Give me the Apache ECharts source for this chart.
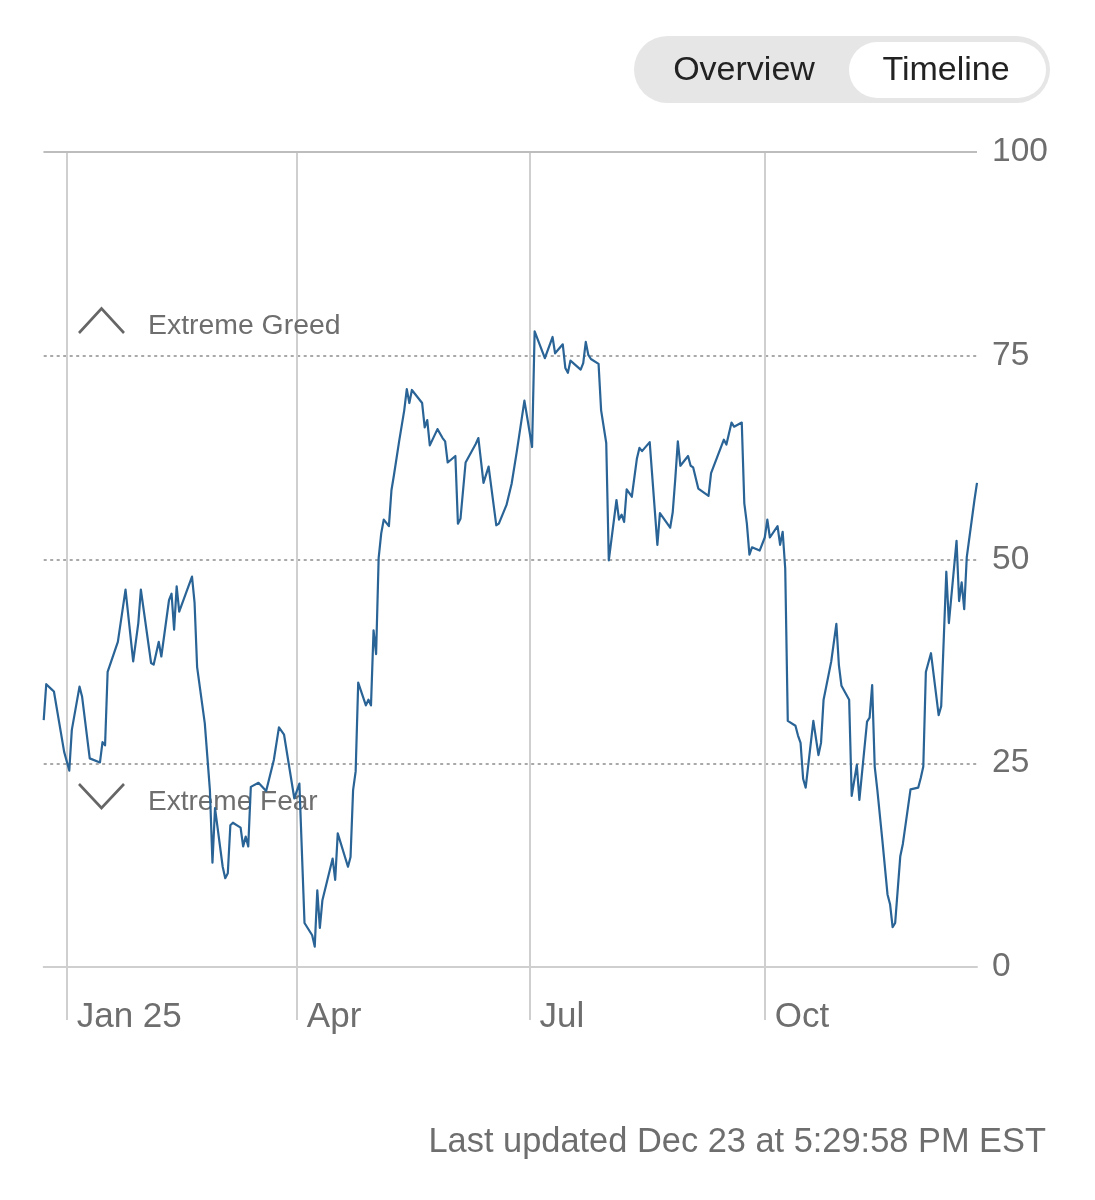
<!DOCTYPE html>
<html><head><meta charset="utf-8">
<style>html,body{margin:0;padding:0;background:#fff}#c{width:1095px;height:1200px}</style>
<script src="https://cdn.jsdelivr.net/npm/echarts@6/dist/echarts.min.js"></script>
</head><body><div id="c"></div>
<script>
// x values are calendar days since 2024-12-23
const lastDay = 365;
const tickDays = [9,99,190,282];
const tickLabels = ['Jan 25','Apr','Jul','Oct'];
const yTicks = [0,25,50,75,100];
const dayOffsets = [0,1,3,4,8,10,11,14,15,18,22,23,24,25,29,32,35,37,38,42,43,45,46,49,50,51,52,53,58,59,60,63,65,66,67,70,71,72,73,74,77,78,79,80,81,84,87,90,92,94,98,100,102,105,106,107,108,109,113,114,115,119,120,121,122,123,126,127,128,129,130,131,132,133,135,136,137,139,141,142,143,144,146,148,149,150,151,154,156,157,158,161,162,163,165,169,170,172,174,177,178,181,183,185,186,188,191,192,196,199,200,203,204,205,206,210,211,212,213,214,217,218,220,221,224,225,226,227,228,230,232,233,234,237,240,241,245,246,247,248,249,252,253,254,256,260,261,266,267,269,270,273,274,275,276,277,280,282,283,284,287,288,289,290,291,294,295,296,297,298,301,303,304,305,308,310,311,312,315,316,318,319,322,323,324,325,326,328,330,331,332,333,335,336,339,342,343,344,345,347,350,351,353,354,357,358,359,360,361,364,365];
const fearGreed = [30.3,34.7,34.1,33.8,26.4,24.1,29.1,34.4,33.2,25.6,25.1,27.6,27.2,36.2,39.9,46.3,37.5,42.2,46.3,37.3,37.1,39.9,38.1,45.0,45.8,41.4,46.7,43.6,47.9,44.7,36.8,29.9,21.7,12.8,19.5,12.3,10.9,11.5,17.4,17.7,17.1,14.8,16.0,14.8,22.1,22.6,21.6,25.4,29.4,28.5,20.7,22.5,5.4,3.9,2.5,9.4,4.8,8.2,13.3,10.7,16.4,12.3,13.5,21.7,24.0,34.9,32.1,32.8,32.1,41.3,38.4,50.2,53.2,54.9,54.1,58.5,60.4,64.5,68.3,70.9,69.2,70.8,70.0,69.2,66.2,67.1,64.0,66.0,64.9,64.5,61.9,62.7,54.4,55.0,61.9,64.2,64.9,59.4,61.4,54.2,54.4,56.7,59.3,63.2,65.3,69.5,63.8,78.0,74.7,77.3,75.3,76.4,73.5,72.9,74.4,73.3,74.1,76.7,75.1,74.6,74.0,68.3,64.3,49.9,57.3,54.9,55.5,54.6,58.6,57.7,62.4,63.7,63.3,64.4,51.8,55.7,53.9,55.8,59.9,64.5,61.5,62.7,61.5,61.3,58.7,57.8,60.6,64.7,64.1,66.8,66.3,66.8,56.9,54.4,50.6,51.5,51.1,52.7,54.9,52.7,54.1,51.8,53.4,48.9,30.2,29.6,28.4,27.5,23.1,22.0,30.2,26.0,27.5,32.8,37.5,42.1,37.0,34.5,32.8,21.0,24.8,20.5,30.1,30.6,34.6,24.6,21.8,15.5,8.9,7.7,4.9,5.4,13.6,15.1,21.8,22.0,23.2,24.6,36.2,38.5,30.9,32.0,48.5,42.2,52.3,44.9,47.2,43.9,50.3,57.3,59.4];

const points = dayOffsets.map((d, i) => [d, fearGreed[i]]);
const FONT = '"Liberation Sans", Arial, sans-serif';
const GREY = '#6e6e6e';

const chart = echarts.init(document.getElementById('c'), null, {renderer:'canvas'});
chart.setOption({
  animation:false,
  backgroundColor:'#fff',
  grid:{left:43.7,right:118,top:152,bottom:233,containLabel:false},
  xAxis:{
    type:'value',
    min:0,
    max:lastDay,
    axisLine:{show:true,onZero:false,lineStyle:{color:'#cfcfcf',width:2}},
    axisTick:{show:true,length:53,customValues:tickDays,lineStyle:{color:'#cfcfcf',width:2}},
    splitLine:{show:true,lineStyle:{color:'#cfcfcf',width:2,type:'solid'}},
    axisLabel:{
      show:true,
      customValues:tickDays,
      hideOverlap:false,
      color:GREY,
      fontFamily:FONT,
      fontSize:35,
      align:'left',
      padding:[0,0,0,10],
      margin:33,
      formatter:(v)=>{const i=tickDays.indexOf(+v);return i>=0?tickLabels[i]:'';}
    }
  },
  yAxis:{
    type:'value',
    position:'right',
    min:0,max:100,interval:25,
    axisLine:{show:false},
    axisTick:{show:false},
    axisLabel:{show:true,color:GREY,fontFamily:FONT,fontSize:33.5,margin:15,
      formatter:(v)=>yTicks.includes(+v)?String(v):''},
    splitLine:{show:true,lineStyle:{color:'#a9a9a9',width:2,type:[3,3.5]}}
  },
  series:[{
    type:'line',
    data:points,
    showSymbol:false,
    symbol:'none',
    smooth:false,
    z:5,
    lineStyle:{color:'#2a6496',width:2.2,join:'round'},
    markLine:{silent:true,symbol:'none',label:{show:false},animation:false,
      lineStyle:{color:'#bdbdbd',width:2,type:'solid'},data:[{yAxis:100}]}
  }],
  graphic:[
    {type:'rect',z:1,shape:{x:634,y:36,width:416,height:67,r:33.5},style:{fill:'#e6e6e6'}},
    {type:'rect',z:2,shape:{x:849,y:42,width:197,height:56,r:28},style:{fill:'#ffffff'}},
    {type:'text',z:3,x:744,y:71,style:{text:'Overview',font:'34px '+FONT,fill:'#222',align:'center',verticalAlign:'middle'}},
    {type:'text',z:3,x:946,y:71,style:{text:'Timeline',font:'34px '+FONT,fill:'#222',align:'center',verticalAlign:'middle'}},
    {type:'polyline',z:1,shape:{points:[[79,333],[101.5,308.5],[124,333]]},style:{stroke:'#666',lineWidth:2.6,fill:null}},
    {type:'polyline',z:1,shape:{points:[[79,784],[101.5,808],[124,784]]},style:{stroke:'#666',lineWidth:2.6,fill:null}},
    {type:'text',z:1,x:148,y:326,style:{text:'Extreme Greed',font:'28.4px '+FONT,fill:GREY,align:'left',verticalAlign:'middle'}},
    {type:'text',z:1,x:148,y:802,style:{text:'Extreme Fear',font:'28px '+FONT,fill:GREY,align:'left',verticalAlign:'middle'}},
    {type:'text',z:1,x:1046,y:1143,style:{text:'Last updated Dec 23 at 5:29:58 PM EST',font:'34.4px '+FONT,fill:GREY,align:'right',verticalAlign:'middle'}}
  ]
});
</script></body></html>
